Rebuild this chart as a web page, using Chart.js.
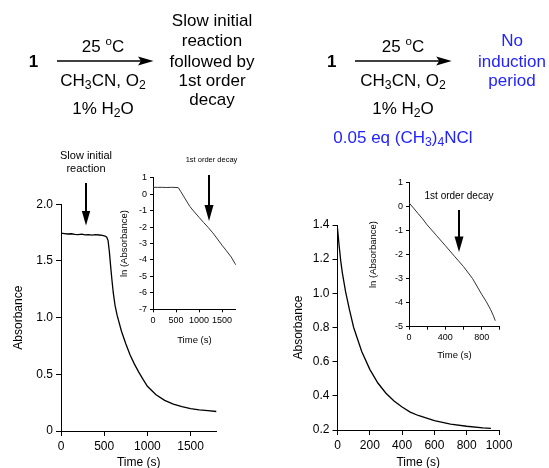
<!DOCTYPE html>
<html><head><meta charset="utf-8">
<script src="https://cdn.jsdelivr.net/npm/chart.js@4.4.1/dist/chart.umd.min.js"></script>
<style>
html,body{margin:0;padding:0;background:#fff;}
#wrap{position:relative;width:549px;height:468px;overflow:hidden;font-family:"Liberation Sans",Arial,sans-serif;color:#000;}
canvas{position:absolute;left:0;top:0;}
.t{position:absolute;transform:translate(-50%,-50%);white-space:nowrap;text-align:center;line-height:1;}
.s17{font-size:17px;}
.sub{font-size:0.72em;vertical-align:-0.32em;line-height:0;}
.sup{font-size:0.68em;vertical-align:0.55em;line-height:0;}
.blue{color:#2323ff;}
svg{position:absolute;left:0;top:0;}
</style></head><body>
<div id="wrap">
<canvas id="cLM" width="549" height="468"></canvas>
<canvas id="cRM" width="549" height="468"></canvas>
<canvas id="cLI" width="549" height="468"></canvas>
<canvas id="cRI" width="549" height="468"></canvas>

<div class="t s17" style="left:33.5px;top:61px;font-weight:bold;">1</div>
<div class="t s17" style="left:103px;top:46px;">25 <span class="sup">o</span>C</div>
<div class="t s17" style="left:103px;top:80px;">CH<span class="sub">3</span>CN, O<span class="sub">2</span></div>
<div class="t s17" style="left:103px;top:108px;">1% H<span class="sub">2</span>O</div>
<div class="t s17" style="left:212px;top:20px;">Slow initial</div>
<div class="t s17" style="left:212px;top:40px;">reaction</div>
<div class="t s17" style="left:212px;top:61px;">followed by</div>
<div class="t s17" style="left:212px;top:80px;">1st order</div>
<div class="t s17" style="left:212px;top:99px;">decay</div>

<div class="t s17" style="left:331.7px;top:61px;font-weight:bold;">1</div>
<div class="t s17" style="left:403px;top:46px;">25 <span class="sup">o</span>C</div>
<div class="t s17" style="left:403px;top:80px;">CH<span class="sub">3</span>CN, O<span class="sub">2</span></div>
<div class="t s17" style="left:403px;top:108px;">1% H<span class="sub">2</span>O</div>
<div class="t s17 blue" style="left:403px;top:137px;">0.05 eq (CH<span class="sub">3</span>)<span class="sub">4</span>NCl</div>
<div class="t s17 blue" style="left:512px;top:40px;">No</div>
<div class="t s17 blue" style="left:512px;top:61px;">induction</div>
<div class="t s17 blue" style="left:512px;top:80px;">period</div>

<div class="t" style="left:86px;top:155px;font-size:11px;">Slow initial</div>
<div class="t" style="left:86px;top:167.5px;font-size:11px;">reaction</div>
<div class="t" style="left:211.5px;top:160px;font-size:7.5px;">1st order decay</div>
<div class="t" style="left:459px;top:196px;font-size:10px;">1st order decay</div>

<svg width="549" height="468">
 <line x1="57" y1="61" x2="142" y2="61" stroke="#000" stroke-width="1.5"/>
 <polygon points="153.5,61 138,56.5 141,61 138,65.5" fill="#000"/>
 <line x1="355" y1="61" x2="440" y2="61" stroke="#000" stroke-width="1.5"/>
 <polygon points="451.7,61 436.2,56.5 439.2,61 436.2,65.5" fill="#000"/>
 <line x1="86" y1="183" x2="86" y2="214" stroke="#000" stroke-width="2"/>
 <polygon points="81.8,211 90.2,211 86,225.5" fill="#000"/>
 <line x1="209" y1="175" x2="209" y2="208" stroke="#000" stroke-width="2"/>
 <polygon points="204.5,205 213.5,205 209,221" fill="#000"/>
 <line x1="459" y1="210" x2="459" y2="239" stroke="#000" stroke-width="2"/>
 <polygon points="454.5,236.5 463.5,236.5 459,252" fill="#000"/>
</svg>
</div>
<script>
// ---------------- DATA ----------------
// Left main plot: absorbance vs time (s)
const leftMainTime = [0,40,80,120,160,200,240,280,320,360,400,440,480,510,530,545,560,575,590,605,625,650,700,750,800,850,900,950,1000,1100,1200,1300,1400,1500,1600,1700,1800];
const leftMainAbs  = [1.745,1.742,1.738,1.740,1.735,1.733,1.736,1.730,1.733,1.728,1.732,1.729,1.726,1.720,1.710,1.680,1.580,1.450,1.330,1.220,1.110,1.020,0.880,0.770,0.670,0.590,0.520,0.455,0.395,0.320,0.270,0.238,0.215,0.198,0.187,0.179,0.172];
const leftMainXTicks = [0,500,1000,1500];
const leftMainXLabels = ['0','500','1000','1500'];
const leftMainYTicks = [0,0.5,1.0,1.5,2.0];
const leftMainYLabels = ['0','0.5','1.0','1.5','2.0'];

// Left inset: ln(Absorbance) vs time (s)
const leftInsetTime = [0,100,200,300,400,500,550,600,650,700,800,900,1000,1100,1200,1300,1400,1500,1600,1700,1800];
const leftInsetLn   = [0.42,0.42,0.42,0.41,0.42,0.41,0.40,0.18,-0.05,-0.28,-0.74,-1.08,-1.40,-1.72,-2.02,-2.35,-2.72,-3.10,-3.45,-3.82,-4.30];
const leftInsetXTicks = [0,500,1000,1500];
const leftInsetXLabels = ['0','500','1000','1500'];
const leftInsetYTicks = [-7,-6,-5,-4,-3,-2,-1,0,1];
const leftInsetYLabels = ['-7','-6','-5','-4','-3','-2','-1','0','1'];

// Right main plot: absorbance vs time (s)
const rightMainTime = [0,10,20,30,50,75,100,150,200,250,300,350,400,450,500,600,700,800,900,950];
const rightMainAbs  = [1.38,1.28,1.19,1.12,1.01,0.90,0.80,0.66,0.555,0.475,0.415,0.370,0.335,0.305,0.285,0.255,0.235,0.222,0.212,0.210];
const rightMainXTicks = [0,200,400,600,800,1000];
const rightMainXLabels = ['0','200','400','600','800','1000'];
const rightMainYTicks = [0.2,0.4,0.6,0.8,1.0,1.2,1.4];
const rightMainYLabels = ['0.2','0.4','0.6','0.8','1.0','1.2','1.4'];

// Right inset: ln(Absorbance) vs time (s)
const rightInsetTime = [0,50,100,150,200,300,400,500,600,700,800,850,900,930,950];
const rightInsetLn   = [0.15,-0.07,-0.30,-0.52,-0.77,-1.20,-1.63,-2.07,-2.50,-3.00,-3.65,-3.95,-4.30,-4.55,-4.75];
const rightInsetXTicks = [0,200,400,600,800,1000];
const rightInsetXLabels = ['0','','400','','800',''];
const rightInsetYTicks = [-5,-4,-3,-2,-1,0,1];
const rightInsetYLabels = ['-5','-4','-3','-2','-1','0','1'];

// ---------------- CHARTS ----------------
const FONT = '"Liberation Sans", Arial, sans-serif';

function axis(c){
  return {
    type:'linear', min:c.min, max:c.max, bounds:'data',
    afterBuildTicks: s => { s.ticks = c.ticks.map(v => ({value:v})); },
    afterFit: s => {
      if (c.w != null) s.width = c.w;
      if (c.h != null) s.height = c.h;
      s.paddingLeft = 0; s.paddingRight = 0; s.paddingTop = 0; s.paddingBottom = 0;
    },
    grid:{display:true, drawOnChartArea:false, drawTicks:true, tickLength:c.tl, color:'#000', lineWidth:1},
    border:{display:true, color:'#000', width:1},
    ticks:{autoSkip:false, maxRotation:0, minRotation:0, padding:c.pad, color:'#000',
           font:{family:FONT, size:c.fs}, callback:(v,i) => c.labels[i]},
    title:{display:true, text:c.title, color:'#000', font:{family:FONT, size:c.ts, lineHeight:c.tlh || 1.2}, padding:c.tp}
  };
}

function makeChart(id, xs, ys, color, lw, pad, xa, ya){
  return new Chart(document.getElementById(id), {
    type:'line',
    data:{datasets:[{data: xs.map((x,i) => ({x:x, y:ys[i]})), borderColor:color, borderWidth:lw,
                     pointRadius:0, tension:0, fill:false}]},
    options:{
      responsive:false, animation:false, events:[],
      layout:{padding:pad},
      plugins:{legend:{display:false}, tooltip:{enabled:false}},
      scales:{x:xa, y:ya}
    }
  });
}

makeChart('cLM', leftMainTime, leftMainAbs, '#000', 1.3,
  {left:0, top:204.3, right:332.5, bottom:0},
  axis({min:0, max:1800, ticks:leftMainXTicks, labels:leftMainXLabels, h:37, tl:5, pad:3, fs:12, title:'Time (s)', ts:12, tp:0, tlh:0.95}),
  axis({min:0, max:2.0, ticks:leftMainYTicks, labels:leftMainYLabels, w:61, tl:5, pad:3, fs:12, title:'Absorbance', ts:12, tp:11}));

makeChart('cRM', rightMainTime, rightMainAbs, '#000', 1.3,
  {left:285, top:225, right:50, bottom:0},
  axis({min:0, max:1000, ticks:rightMainXTicks, labels:rightMainXLabels, h:38, tl:5, pad:3, fs:12, title:'Time (s)', ts:12, tp:0, tlh:0.9}),
  axis({min:0.2, max:1.4, ticks:rightMainYTicks, labels:rightMainYLabels, w:52.5, tl:5, pad:3, fs:12, title:'Absorbance', ts:12, tp:6}));

makeChart('cLI', leftInsetTime, leftInsetLn, '#333', 1,
  {left:119, top:177.8, right:313.2, bottom:122.3},
  axis({min:0, max:1800, ticks:leftInsetXTicks, labels:leftInsetXLabels, h:36.4, tl:3, pad:3, fs:9, title:'Time (s)', ts:9.5, tp:0}),
  axis({min:-7, max:1, ticks:leftInsetYTicks, labels:leftInsetYLabels, w:34, tl:3, pad:3, fs:9, title:'ln (Absorbance)', ts:9.5, tp:0}));

makeChart('cRI', rightInsetTime, rightInsetLn, '#333', 1,
  {left:367.3, top:182.3, right:49.2, bottom:106.5},
  axis({min:0, max:1000, ticks:rightInsetXTicks, labels:rightInsetXLabels, h:34.8, tl:3, pad:2, fs:9, title:'Time (s)', ts:9.5, tp:0}),
  axis({min:-5, max:1, ticks:rightInsetYTicks, labels:rightInsetYLabels, w:41.7, tl:3, pad:3, fs:9, title:'ln (Absorbance)', ts:9.5, tp:0}));
</script>
</body></html>
